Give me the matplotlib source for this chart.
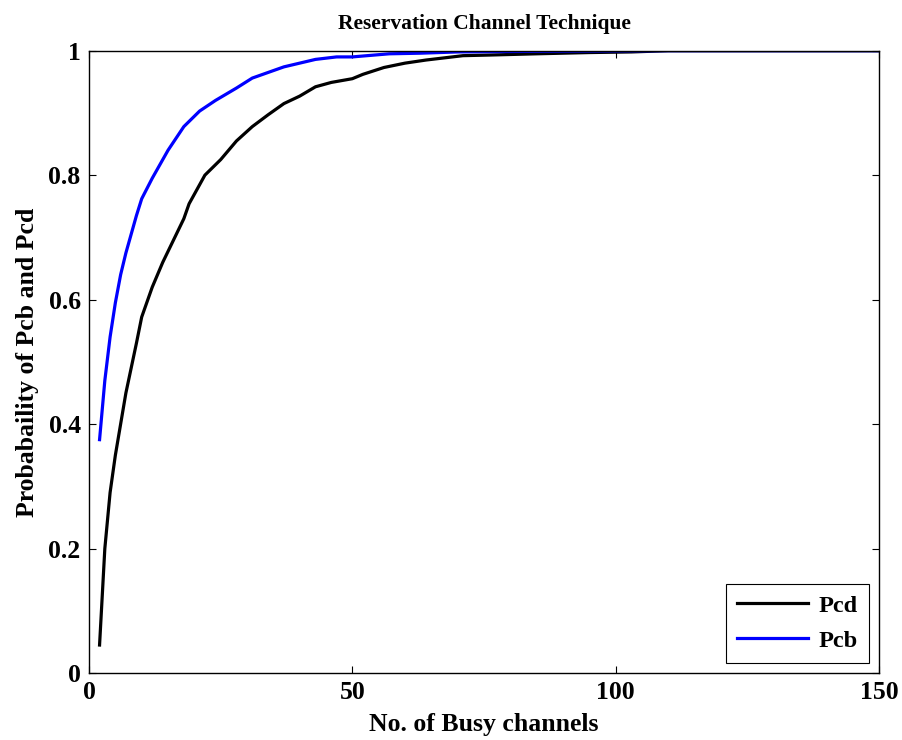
import matplotlib
matplotlib.use("Agg")
import matplotlib.pyplot as plt

# values
pcd_x = [2, 3, 4, 5, 6, 7, 8, 9, 10, 12, 14, 16, 18, 19, 22, 25, 28, 31, 34, 37,
         40, 43, 46, 50, 52, 56, 60, 64, 67, 71, 76, 85, 95, 103, 110, 150]
pcd_y = [0.045, 0.20, 0.29, 0.35, 0.40, 0.45, 0.49, 0.53, 0.572, 0.62, 0.66, 0.695,
         0.73, 0.754, 0.80, 0.825, 0.855, 0.878, 0.897, 0.915, 0.927, 0.942, 0.949,
         0.955, 0.962, 0.973, 0.980, 0.985, 0.988, 0.992, 0.993, 0.995, 0.997, 0.998,
         1.0, 1.0]

pcb_x = [2, 3, 4, 5, 6, 7, 8, 9, 10, 12, 15, 18, 21, 24, 28, 31, 34, 37, 40, 43,
         47, 50, 57, 63, 70, 85, 110, 150]
pcb_y = [0.375, 0.47, 0.54, 0.595, 0.64, 0.675, 0.705, 0.735, 0.762, 0.795, 0.84,
         0.878, 0.903, 0.92, 0.94, 0.956, 0.965, 0.974, 0.98, 0.986, 0.99, 0.990,
         0.995, 0.996, 0.998, 0.999, 1.0, 1.0]

x_ticks = [0, 50, 100, 150]
y_ticks = [0, 0.2, 0.4, 0.6, 0.8, 1]
y_tick_labels = ["0", "0.2", "0.4", "0.6", "0.8", "1"]

plt.rcParams["font.family"] = ["Liberation Serif", "DejaVu Serif"]
plt.rcParams["font.weight"] = "bold"
plt.rcParams["font.size"] = 14

fig = plt.figure(figsize=(9.02, 7.40), dpi=100)
ax = fig.add_axes([0.0987, 0.0905, 0.8758, 0.8410])

ax.plot(pcd_x, pcd_y, color="black", lw=2.3, label="Pcd")
ax.plot(pcb_x, pcb_y, color="#0000ff", lw=2.3, label="Pcb")

ax.set_xlim(0, 150)
ax.set_ylim(0, 1)
ax.set_xticks(x_ticks)
ax.set_yticks(y_ticks)
ax.set_yticklabels(y_tick_labels)
ax.tick_params(direction="in", length=5, width=0.8, top=True, right=True,
               labelsize=18.5, pad=6)
for s in ax.spines.values():
    s.set_linewidth(1.0)

ax.set_title("Reservation Channel Technique", fontsize=15.5, fontweight="bold", pad=15.5)
ax.set_xlabel("No. of Busy channels", fontsize=18.5, fontweight="bold", labelpad=6)
ax.set_ylabel("Probabaility of Pcb and Pcd", fontsize=18.5, fontweight="bold", labelpad=7)

leg = ax.legend(loc="lower right", fancybox=False, edgecolor="black", framealpha=1,
                fontsize=17.5, handlelength=2.9, handletextpad=0.45, borderpad=0.45,
                borderaxespad=0.42, labelspacing=0.55)
leg.get_frame().set_linewidth(0.8)

fig.savefig("out.png", dpi=100)
